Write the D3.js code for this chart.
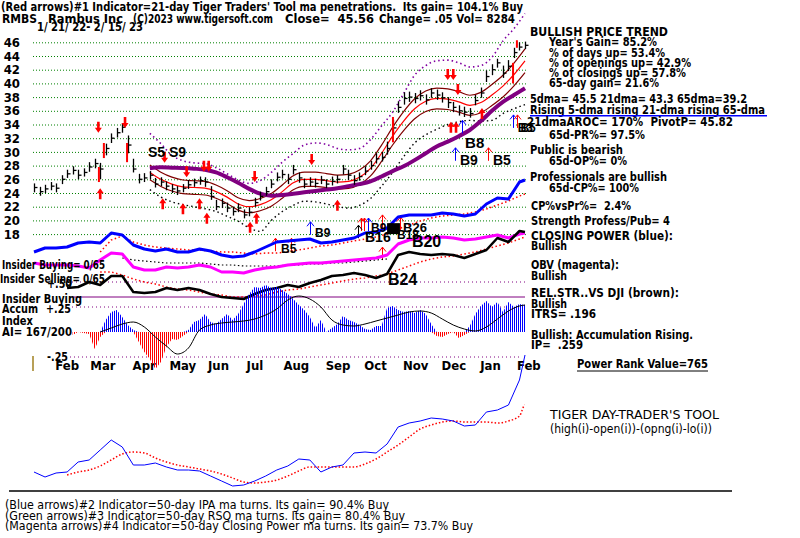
<!DOCTYPE html>
<html><head><meta charset="utf-8">
<script src="https://cdn.jsdelivr.net/npm/d3@7"></script>
<style>
body{margin:0;background:#fff;}
svg{display:block;}
</style></head><body>
<svg id="c" width="800" height="538"></svg>
<script>
// ---------------- DATA ----------------
const priceTicks = [18,20,22,24,26,28,30,32,34,36,38,40,42,44,46];
const monthNames = ["Feb","Mar","Apr","May","Jun","Jul","Aug","Sep","Oct","Nov","Dec","Jan","Feb"];
const monthIdx = [7,26,49,69,90,111,131,154,175,196,217,238,258]; // trading-day index of month start
// price bars every 3 trading days (index 0..267)
const close = [24.8,24.2,24.6,25.0,24.7,26.0,26.8,27.3,26.6,27.0,
 27.8,28.3,27.5,30.5,32.0,32.8,33.6,31.0,27.5,26.0,
 26.2,26.6,25.3,25.6,25.0,24.6,24.3,24.7,25.2,25.5,
 25.8,25.6,23.5,22.0,22.5,21.8,21.3,21.8,20.8,21.2,
 22.6,23.5,24.2,25.3,26.3,26.7,26.0,27.4,26.2,25.3,
 25.6,25.4,25.9,25.3,25.7,26.0,27.5,26.6,25.8,26.4,
 27.2,28.0,29.0,29.2,30.5,33.5,36.5,37.8,38.0,37.8,
 38.2,37.6,38.6,38.3,37.9,37.2,36.5,36.0,35.8,35.6,
 37.5,38.6,41.0,42.0,43.0,41.5,42.5,44.5,45.3,45.56];
const high = [25.4,24.9,25.2,25.6,25.4,26.6,27.4,27.9,27.4,27.6,
 28.5,29.0,28.4,31.2,32.7,33.5,34.2,32.4,29.0,26.8,
 26.9,27.2,26.2,26.3,25.7,25.3,25.0,25.3,25.9,26.1,
 26.4,26.3,25.0,23.0,23.2,22.6,22.0,22.5,21.6,21.9,
 23.3,24.2,24.9,26.0,27.0,27.4,26.8,28.1,27.0,26.1,
 26.3,26.1,26.5,26.0,26.4,26.6,28.1,27.4,26.6,27.0,
 27.9,28.7,29.8,30.0,31.5,34.7,37.4,38.7,38.8,38.6,
 39.0,38.4,39.3,39.1,38.7,38.0,37.3,36.8,36.6,36.4,
 38.3,39.4,41.9,42.8,43.6,42.6,43.4,45.2,46.0,46.1];
const low = [24.1,23.6,24.0,24.4,24.1,25.3,26.2,26.7,26.0,26.4,
 27.1,27.6,26.0,29.5,31.3,32.1,32.8,29.8,27.0,25.4,
 25.6,26.0,24.8,25.0,24.4,24.0,23.7,24.1,24.6,24.9,
 25.2,24.9,23.0,21.5,21.8,21.2,20.7,21.2,20.3,20.6,
 22.0,22.9,23.6,24.7,25.7,26.1,25.3,26.7,25.5,24.7,
 25.0,24.8,25.3,24.7,25.1,25.4,26.7,25.9,25.2,25.8,
 26.6,27.4,28.3,28.6,29.6,32.5,35.7,36.9,37.3,37.1,
 37.5,36.9,37.9,37.6,37.2,36.4,35.8,35.3,35.1,35.0,
 36.8,37.9,40.2,41.2,42.3,40.8,41.8,43.7,44.8,45.0];
// moving averages (every 6 days from index 63, last = 267)
const ma21 = [27.0,26.0,25.3,24.9,24.8,24.7,24.2,23.4,22.4,22.0,
 22.3,23.0,24.2,25.5,26.0,26.0,25.8,25.6,25.7,26.3,
 27.6,29.8,32.3,34.5,36.3,37.4,37.8,37.7,37.3,36.8,
 37.2,38.3,39.6,41.3,43.3];
const ma65 = [27.6,27.75,27.7,27.65,27.55,27.4,27.0,26.3,25.5,24.6,
 23.9,23.6,23.7,23.9,24.1,24.3,24.5,24.7,25.0,25.3,
 25.7,26.4,27.2,27.9,28.8,29.8,30.8,31.5,32.3,33.2,
 34.5,36.0,37.3,38.3,39.3];
const upperBand = [32.7,31.2,29.5,28.7,28.4,28.3,27.7,26.8,25.9,25.4,
 25.8,27.0,28.5,29.8,31.0,31.3,31.1,30.5,30.3,30.5,
 31.8,33.8,35.8,38.5,41.2,42.6,43.3,43.4,43.0,42.4,
 42.6,43.8,46.2,48.0,50.2];
const lowerBand = [24.5,23.4,22.7,22.3,22.0,21.7,21.3,20.6,19.9,18.9,
 18.4,20.0,21.3,22.2,22.8,22.7,22.4,22.0,21.8,22.2,
 23.2,25.0,27.0,29.3,31.3,32.5,33.3,34.0,34.4,34.6,
 34.5,34.6,35.6,36.3,36.9];
const bandPct = 0.04;
// indicators every 6 trading days (index 0..264, then 267)
const closingPower = [48,52,52,53,57,58,57,67,65,55, 51,49,51,48,48,51,49,45,43,44,
 48,53,58,59,60,61,57,58,60,62, 67,68,72,83,85,85,85,87,86,84, 86,96,102,101,118,120];
const closingPowerMA = [48,60,64,58,55,53,52,51,50,50, 49,48,48,47,46,47,47,48,50,52,
 54,55,57,59,61,63,66,71,75,79, 82,84,85,86,88,91,95,99,104,106]; // from 6th point
const obv = [37,35,35,35,34,32,40,47,46,33, 30,30,33,32,33,35,33,28,28,27,
 30,32,33,35,36,37,37,38,39,40, 41,42,45,56,60,62,62,63,62,60, 61,63,65,62,66,67];
const obvMA = [42,40,39,38,37,37,37,37,36,35, 35,34,34,34,34,35,35,36,36,37, 37,38,39,40,41]; // from 8th point
const relStr = [12,13,18,15,24,24,8,7,8,12, 10,12,10,6,3,2,1,6,10,12,
 15,13,17,20,24,25,27,25,22,26, 45,48,46,45,46,45,42,46,50,62, 58,69,68]; // from 3rd point
const relStrMA = [28,28,25,21,18,16,13,11,10,8, 6,5,3,3,4,5,8,10,11,13,
 15,17,19,21,22,24,26,30,34,38, 41,43,44,46,48,51,54,57,61,63]; // from 6th point
const accumMA = [0.0,0.04,0.08,0.1,0.05,-0.05,-0.14,-0.22,-0.16,0.02,
 0.07,0.09,0.1,0.11,0.13,0.17,0.23,0.32,0.36,0.33,
 0.25,0.12,0.07,0.06,0.08,0.11,0.14,0.17,0.2,0.21,
 0.19,0.13,0.07,0.03,0.01,0.05,0.13,0.21,0.26,0.27]; // from 6th point
// accumulation index every 3 days, from 7th point (index 21)
const accum = [-0.03,0.0,-0.01,-0.02,-0.17,-0.05,0.12,0.2,0.22,0.15,
 0.07,0.02,-0.1,-0.2,-0.27,-0.37,-0.3,-0.15,-0.07,-0.08,
 -0.04,0.02,0.1,0.12,0.18,0.1,0.08,0.13,0.18,0.12,
 0.18,0.28,0.38,0.45,0.44,0.47,0.44,0.45,0.42,0.38,
 0.33,0.27,0.22,0.15,0.04,0.12,0.0,0.04,0.08,0.16,
 0.12,0.1,0.07,0.03,0.02,0.06,0.06,0.24,0.26,0.22,
 0.2,0.21,0.19,0.22,0.18,0.08,-0.04,-0.05,-0.02,0.0,
 -0.06,-0.03,0.06,0.18,0.26,0.31,0.25,0.3,0.2,0.3,
 0.25,0.28,0.27];
const dayTrader = [18,13,17,18,28,30,40,50,43,25, 25,27,23,20,20,19,14,9,4,5,
 9,14,20,24,31,30,18,23,25,37, 38,37,46,63,67,69,72,71,69,64, 65,78,80,85,110,135];
const dayTraderMA = [15,18,20,24,30,36,38,37,32,28, 25,23,21,19,16,12,8,7,8,10,
 14,19,23,23,23,23,23,26,31,38, 45,53,61,65,68,69,68,68,68,67, 69,74,85,92]; // from 3rd point
// signals: [trading-day index, price level of tip]
const redDown = [[35,32.8],[49.5,33.5],[71,28.4],[83,26.3],[92.4,27.1],[95,27.1],[120,25.6],[151,28.1],[225,40.5],[228,40.5],[230.5,38.3]];
const redUp = [[36,24.7],[70,23.25],[81,22.5],[90,23.25],[94,21.1],[117.5,19.8],[121,21.1],[165,23.0],[226.7,34.4],[229.5,34.4],[243.6,36.4]];
const redBars = [[35.3,27.8,25.6],[38,31.3,29.1],[50.6,31.3,28.5],[195.2,35.1,31.4],[260.5,43.0,40.0],[262.6,46.3,45.2]];
const thinBlue = [[150,19.8],[181.6,20.35],[229,30.6],[232.7,34.6],[260.5,35.4]];
const thinRed = [[131,17.4],[139.7,17.4],[177.8,20.35],[179.4,20.35],[189.2,20.8],[189.2,16.1],[199,20.5],[246.9,30.6],[262.6,35.4]];
const thinBlack = [[176.2,19.3]];
const signalLabels = [["S5 S9",62,29.3,14],["B9",152.8,17.6,12],["B5",134.3,15.2,12],["B16",180,16.85,14],
 ["B20",205.5,16.1,16],["B24",192.5,10.6,16],["B9",183.3,18.3,12],["B26",200.7,18.3,13],["B18",197.4,17.3,12],
 ["B8",234.4,30.6,15],["B9",231.6,28.1,14],["B5",249.6,28.1,14],["B3",263.0,32.9,12],["B5",264.5,32.9,12]];

// ---------------- SCALES ----------------
const svg = d3.select('#c');
const NARROW = '"Liberation Sans Narrow","DejaVu Sans Condensed","Arial Narrow",sans-serif';
const WIDE = '"Liberation Sans",Arial,sans-serif';
const xS = d3.scaleLinear().domain([0,267]).range([34,525]);
const pY = d3.scaleLinear().domain([18,46]).range([234.1,42.3]);
const indY = d3.scaleLinear().domain([0,120]).range([300,180]);
const aiY = d3.scaleLinear().domain([-0.25,0.5]).range([357,282]);
const dtY = d3.scaleLinear().domain([0,140]).range([490,350]);
const kIdx = d3.range(0,268,3);
const mIdx = d3.range(0,265,6).concat([267]);
const maIdx = d3.range(63,262,6).concat([267]);

// ---------------- AXES / GRID ----------------
const ga = svg.append('g').attr('transform','translate(33,0)')
  .call(d3.axisLeft(pY).tickValues(priceTicks).tickSize(-494).tickPadding(13).tickFormat(d3.format('d')));
ga.select('.domain').remove();
ga.selectAll('line').attr('stroke','#008000').attr('stroke-dasharray','1,2');
ga.selectAll('text').attr('font-size',13).attr('font-weight','bold').attr('fill','#000').style('font-family',NARROW);

const gm = svg.append('g').attr('transform','translate(0,361)')
  .call(d3.axisBottom(xS).tickValues(monthIdx).tickSize(0).tickPadding(0).tickFormat((d,i)=>monthNames[i]));
gm.select('.domain').remove();
gm.selectAll('text').attr('x',8).attr('text-anchor','start').attr('font-size',13).attr('font-weight','bold')
  .attr('fill','#000').style('font-family',NARROW);

// AI reference lines
function hline(y,x1,x2,color,dash,w){ svg.append('line').attr('x1',x1).attr('x2',x2).attr('y1',y).attr('y2',y)
  .attr('stroke',color).attr('stroke-width',w||1).attr('stroke-dasharray',dash||null); }
hline(aiY(0.5),72,525,'#800080','1,3');
hline(aiY(0.25),72,525,'#800080','1,3');
hline(aiY(-0.25),66,521,'#800080','1,3');
hline(aiY(0.35),73,525,'#800080',null,1);
svg.append('line').attr('x1',33).attr('x2',33).attr('y1',356).attr('y2',371).attr('stroke','#a08020').attr('stroke-width',1.5);

// ---------------- LINE HELPERS ----------------
function drawLine(vals, idx, yS, color, width, dash, curve){
  const pts = vals.map((v,i)=>[xS(idx[i]), yS(v)]);
  svg.append('path').attr('d', d3.line().curve(curve||d3.curveLinear)(pts)).attr('fill','none')
    .attr('stroke',color).attr('stroke-width',width).attr('stroke-dasharray',dash||null)
    .attr('stroke-linejoin','round');
}

// price moving averages and bands
drawLine(upperBand, maIdx, pY, '#8000a0', 1.6, '1.5,3', d3.curveMonotoneX);
drawLine(lowerBand, maIdx, pY, '#000', 1.4, '1.5,3', d3.curveMonotoneX);
drawLine(ma21.map(v=>v*(1+bandPct)), maIdx, pY, '#800000', 1.2, null, d3.curveMonotoneX);
drawLine(ma21.map(v=>v*(1-bandPct)), maIdx, pY, '#800000', 1.2, null, d3.curveMonotoneX);
drawLine(ma21, maIdx, pY, '#ff0000', 1.2, null, d3.curveMonotoneX);
drawLine(ma65, maIdx, pY, '#800080', 4, null, d3.curveMonotoneX);

// price bars
const gb = svg.append('g');
close.forEach((c,i)=>{
  const x = Math.round(xS(kIdx[i]))+0.5;
  gb.append('line').attr('x1',x).attr('x2',x).attr('y1',pY(high[i])).attr('y2',pY(low[i])).attr('stroke','#000').attr('stroke-width',1.3);
  gb.append('line').attr('x1',x).attr('x2',x+3).attr('y1',pY(c)).attr('y2',pY(c)).attr('stroke','#000').attr('stroke-width',1.3);
});
redBars.forEach(d=>{
  const x = xS(d[0]);
  gb.append('line').attr('x1',x).attr('x2',x).attr('y1',pY(d[1])).attr('y2',pY(d[2])).attr('stroke','#ff0000').attr('stroke-width',2);
});

// arrows
function bigArrow(i,p,dir){
  const x = xS(i), y = pY(p);
  const d = dir<0
    ? `M${x-3.5},${y-5}L${x},${y}L${x+3.5},${y-5}ZM${x-1.3},${y-11}h2.6v6h-2.6Z`
    : `M${x-3.5},${y+5}L${x},${y}L${x+3.5},${y+5}ZM${x-1.3},${y+5}h2.6v6h-2.6Z`;
  svg.append('path').attr('d',d).attr('fill','#ff0000');
}
redDown.forEach(d=>bigArrow(d[0],d[1],-1));
redUp.forEach(d=>bigArrow(d[0],d[1],1));
function thinArrow(i,p,color){
  const x = Math.round(xS(i))+0.5, y = pY(p);
  svg.append('path').attr('d',`M${x},${y+13}V${y}M${x-3.5},${y+4.5}L${x},${y}L${x+3.5},${y+4.5}`)
    .attr('fill','none').attr('stroke',color).attr('stroke-width',1);
}
thinBlue.forEach(d=>thinArrow(d[0],d[1],'#0000ff'));
thinRed.forEach(d=>thinArrow(d[0],d[1],'#ff0000'));
thinBlack.forEach(d=>thinArrow(d[0],d[1],'#000'));

// indicator lines
drawLine(closingPowerMA, mIdx.slice(6), indY, '#ff0000', 1.5, '1.5,2.5');
drawLine(obvMA, mIdx.slice(8,33), indY, '#000', 1.2, '1.5,2.5');
drawLine(relStrMA, mIdx.slice(6), indY, '#ff0000', 1.5, '1.5,2.5');
drawLine(closingPower, mIdx, indY, '#0000ff', 3);
drawLine(obv, mIdx, indY, '#ff00ff', 3);
drawLine(relStr, mIdx.slice(3), indY, '#000', 2.5);

// signal labels
signalLabels.forEach(d=>{
  svg.append('text').attr('x',xS(d[1])).attr('y',pY(d[2])).text(d[0]).attr('font-size',d[3])
    .attr('font-weight','bold').style('font-family',WIDE).attr('fill','#000');
});
svg.append('rect').attr('x',xS(192)).attr('y',pY(19.6)).attr('width',xS(199)-xS(192)).attr('height',pY(18.0)-pY(19.6)).attr('fill','#000');

// accumulation index histogram (striped)
const defs = svg.append('defs');
[['pb','#0000ff'],['pr','#ff0000']].forEach(p=>{
  defs.append('pattern').attr('id',p[0]).attr('width',2).attr('height',4).attr('patternUnits','userSpaceOnUse')
   .append('rect').attr('width',1).attr('height',4).attr('fill',p[1]);
});
const aiIdx = kIdx.slice(7);
const aiPts = accum.map((v,i)=>({x:xS(aiIdx[i]),v}));
svg.append('path').attr('d', d3.area().x(d=>d.x).y0(aiY(0)).y1(d=>aiY(Math.max(0,d.v)))(aiPts)).attr('fill','url(#pb)');
svg.append('path').attr('d', d3.area().x(d=>d.x).y0(aiY(0)).y1(d=>aiY(Math.min(0,d.v)))(aiPts)).attr('fill','url(#pr)');
drawLine(accumMA, mIdx.slice(6), aiY, '#000', 1, null, d3.curveMonotoneX);

// day trader tool
drawLine(dayTraderMA, mIdx.slice(3), dtY, '#ff0000', 1.5, '1.5,2', d3.curveMonotoneX);
drawLine(dayTrader, mIdx, dtY, '#0000ff', 1);
hline(491,9,732,'#000',null,1.5);

// ---------------- TEXT ----------------
function T(x,y,s,o){
  o=o||{};
  const t = svg.append('text').attr('x',x).attr('y',y).text(s).attr('font-size',o.fs||13)
    .attr('font-weight',o.fw||'bold').attr('fill','#000').style('font-family',o.ff||NARROW).style('white-space','pre');
  if(o.w) t.attr('textLength',o.w).attr('lengthAdjust','spacingAndGlyphs');
  return t;
}
T(1,10.5,"(Red arrows)#1 Indicator=21-day Tiger Traders' Tool ma penetrations.  Its gain= 104.1% Buy",{w:522});
T(2,22.5,"RMBS",{w:35}); T(48,22.5,"Rambus Inc",{w:75}); T(133,22.5,"(C)2023 www.tigersoft.com",{w:140});
T(285,22.5,"Close=  45.56",{w:89}); T(379,22.5,"Change= .05 Vol= 8284",{w:136});
T(37,31,"1/ 21/ 22- 2/ 15/ 23",{w:106});

T(530,36,"BULLISH PRICE TREND",{w:138});
T(549,46,"Year's Gain= 85.2%",{w:108});
T(549,56.5,"% of days up= 53.4%",{w:116});
T(549,66.5,"% of openings up= 42.9%",{w:142});
T(549,77,"% of closings up= 57.8%",{w:137});
T(549,86.5,"65-day gain= 21.6%",{w:110});
T(530,103,"5dma= 45.5 21dma= 43.3 65dma=39.2",{w:217});
T(530,113.5,"Rising 5-dma rising 21-dma rising 65-dma",{w:235});
hline(115.8,530,767,'#0000ff',null,1.5);
T(527,126,"21dmaAROC= 170%  PivotP= 45.82",{w:206});
T(549,139,"65d-PR%= 97.5%",{w:96});
T(530,154,"Public is bearish",{w:93});
T(549,165,"65d-OP%= 0%",{w:78});
T(530,181,"Professionals are bullish",{w:137});
T(549,191.5,"65d-CP%= 100%",{w:90});
T(531,210,"CP%vsPr%=  2.4%",{w:100});
T(531,225,"Strength Profess/Pub= 4",{w:139});
T(531,240,"CLOSING POWER (blue):",{w:142});
T(531,250,"Bullish",{w:36});
T(531,269,"OBV (magenta):",{w:88});
T(531,279.5,"Bullish",{w:36});
T(531,297,"REL.STR..VS DJI (brown):",{w:148});
T(531,307.5,"Bullish",{w:36});
T(531,318,"ITRS= .196",{w:65});
T(531,339,"Bullish: Accumulation Rising.",{w:162});
T(531,349,"IP=  .259",{w:52});
T(577,368,"Power Rank Value=765",{w:131});
hline(371,577,708,'#000',null,1);

T(2,269,"Insider Buying= 0/65",{w:103});
T(0,283,"Insider Selling= 0/65",{w:105});
T(47,287.5,"+.50",{w:25});
T(2,303,"Insider Buying",{w:80});
T(2,313,"Accum",{w:36});
T(46,313,"+.25",{w:25});
T(2,325,"Index",{w:31});
T(2,336,"AI= 167/200",{w:70});
T(47,361,"-.25",{w:21});

T(550,419,"TIGER DAY-TRADER'S TOOL",{fw:'normal',w:169});
T(550,433,"(high(i)-open(i))-(opng(i)-lo(i))",{fw:'normal',w:162});
T(5,509,"(Blue arrows)#2 Indicator=50-day IPA ma turns. Its gain= 90.4% Buy",{fw:'normal',w:384});
T(5,519.5,"(Green arrows)#3 Indicator=50-day RSQ ma turns. Its gain= 80.4% Buy",{fw:'normal',w:400});
T(5,530,"(Magenta arrows)#4 Indicator=50-day Closing Power ma turns. Its gain= 73.7% Buy",{fw:'normal',w:468});
</script>
</body></html>
